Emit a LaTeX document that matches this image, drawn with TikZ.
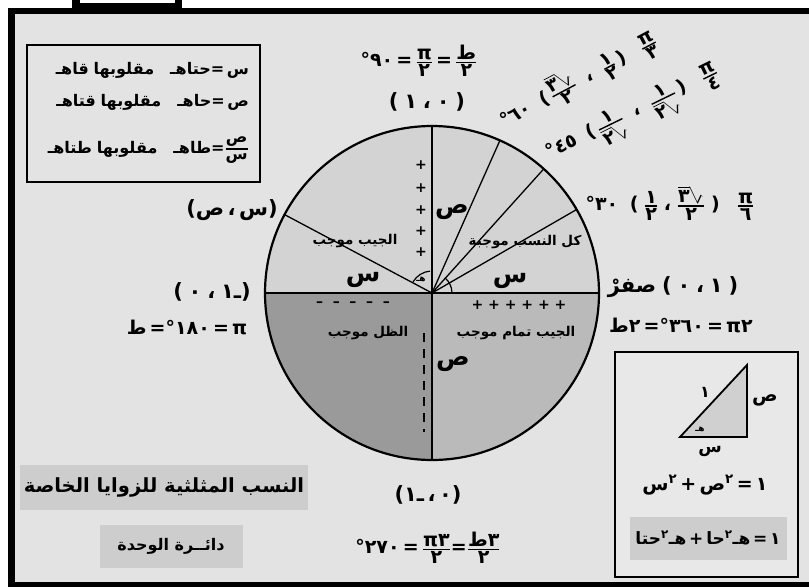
\documentclass[tikz,border=0pt]{standalone}
\usepackage{fontspec}
\usepackage{amsmath}
\usepackage{graphicx}
\usetikzlibrary{calc}
\newfontfamily\arf[Script=Arabic]{DejaVu Sans}
\newfontfamily\laf{DejaVu Sans}
\TeXXeTstate=1
\newcommand{\B}[1]{\hbox{\arf\bfseries #1}}
\newcommand{\PL}[1]{\hbox{\laf\bfseries #1}}
\newcommand{\AR}[1]{\hbox{\arf\bfseries\beginR #1\endR}}
\newcommand{\fr}[2]{$\genfrac{}{}{1.4pt}{}{\B{#1}}{\B{#2}}$}
\newcommand{\rsq}[1]{\reflectbox{$\sqrt{\reflectbox{\B{#1}}}$}}
\definecolor{panel}{HTML}{E3E3E3}
\definecolor{uph}{HTML}{D3D3D3}
\definecolor{llq}{HTML}{9A9A9A}
\definecolor{lrq}{HTML}{BABABA}
\definecolor{gbox}{HTML}{CDCDCD}
\definecolor{tri}{HTML}{D0D0D0}
\definecolor{boxbg}{HTML}{E8E8E8}
\begin{document}
\begin{tikzpicture}[x=1pt,y=-1pt,
  every node/.style={inner sep=0pt,outer sep=0pt},
  lbl/.style={font=\fontsize{19}{22}\selectfont},
  big/.style={font=\fontsize{25}{28}\selectfont},
  quad/.style={font=\fontsize{13.5}{15}\selectfont},
  parl/.style={font=\fontsize{21}{24}\selectfont},
  boxt/.style={font=\fontsize{16}{19}\selectfont,anchor=east}]
\useasboundingbox (0,0) rectangle (809,587);
\fill[white] (0,0) rectangle (809,587);
\fill[panel] (15,14) rectangle (809,582);
% frame
\fill[black] (8,8) rectangle (809,14);
\fill[black] (8,8) rectangle (15,587);
\fill[black] (8,582) rectangle (809,587);
\fill[black] (72,0) rectangle (182,8);
\fill[white] (80,0) rectangle (175,3);
% circle
\coordinate (O) at (432,293);
\fill[uph] (O) -- ++(0:167) arc[start angle=0,end angle=-180,radius=167] -- cycle;
\fill[llq] (O) -- ++(180:167) arc[start angle=180,end angle=90,radius=167] -- cycle;
\fill[lrq] (O) -- ++(90:167) arc[start angle=90,end angle=0,radius=167] -- cycle;
\coordinate (E) at ($(O)+(0:167)$);
\coordinate (W) at ($(O)+(180:167)$);
\coordinate (N) at ($(O)+(-90:167)$);
\coordinate (S) at ($(O)+(90:167)$);
\coordinate (R30) at ($(O)+(-30:167)$);
\coordinate (R45) at ($(O)+(-48:167)$);
\coordinate (R60) at ($(O)+(-66:167)$);
\coordinate (R150) at ($(O)+(-152:167)$);
\draw[line width=1.6] (W) -- (E);
\draw[line width=1.6] (N) -- (S);
\draw[line width=1.3] (O) -- (R30);
\draw[line width=1.3] (O) -- (R45);
\draw[line width=1.3] (O) -- (R60);
\draw[line width=1.3] (O) -- (R150);
\draw[line width=2.2] (O) circle[radius=167];
\draw[line width=1.2] ($(O)+(-95:22)$) arc[start angle=-95,end angle=-150,radius=22];
\draw[line width=1.2] ($(O)+(0:20)$) arc[start angle=0,end angle=-50,radius=20];
\draw[line width=2, dash pattern=on 9pt off 7pt] (424,333) -- (424,432);
% quadrant texts
\node[big] (sUR) at (452,212) {\B{ص}};
\node[big] (xUR) at (510,281) {\B{س}};
\node[big] (xUL) at (363,280) {\B{س}};
\node[big] (sLR) at (453,364) {\B{ص}};
\node[quad] (allpos) at (525,242) {\AR{كل النسب موجبة}};
\node[quad] (sinpos) at (355,241) {\AR{الجيب موجب}};
\node[quad] (tanpos) at (368,333) {\AR{الظل موجب}};
\node[quad] (cospos) at (516,333) {\AR{الجيب تمام موجب}};
\node[font=\fontsize{9}{10}\selectfont] (angh) at (421,279) {\B{هـ}};
\foreach \yy/\nm in {165/p1,188/p2,210/p3,231/p4,252/p5}
  \node[font=\fontsize{14}{16}\selectfont] (\nm) at (421,\yy) {\PL{+}};
\node[font=\fontsize{14}{16}\selectfont] (plusrow) at (519,305) {\PL{+ + + + + +}};
\node[font=\fontsize{14}{16}\selectfont] (minusrow) at (353,304) {\PL{–\ \ –\ \ –\ \ –\ \ –}};
% outside labels
\node[lbl] (a90) at (419,61) {\B{°}\B{٩٠}\,\PL{=}\,\fr{π}{٢}\,\PL{=}\,\fr{ط}{٢}};
\node[parl] (p90) at (427,102) {\PL{(}\;\B{١}\;\B{،}\;\B{٠}\;\PL{)}};
\node[parl] (pxy) at (232,210) {\PL{(}\B{ص}\,\B{،}\,\B{س}\PL{)}};
\node[parl] (p180) at (212,292) {\PL{(}\;\B{٠}\;\B{،}\;\B{١}\B{ـ}\PL{)}};
\node[lbl] (a180) at (187,327) {\B{ط}\,\PL{=}\B{°}\B{١٨٠}\,\PL{=}\,\B{π}};
\node[parl] (p270) at (428,495) {\PL{(}\B{١}\B{ـ}\,\B{،}\,\B{٠}\PL{)}};
\node[lbl] (a270) at (428,548) {\B{°}\B{٢٧٠}\,\PL{=}\,\fr{\B{π}\B{٣}}{٢}\PL{=}\fr{\B{ط}\B{٣}}{٢}};
\node[lbl] (a30) at (670,203) {\B{°}\B{٣٠}\ \ \PL{(}\ \fr{١}{٢}\ \B{،}\ \fr{\rsq{٣}}{٢}\ \PL{)}\ \ \ \fr{π}{٦}};
\node[parl] (p0) at (673,287) {\B{صفرْ}\;\PL{(}\;\B{٠}\;\B{،}\;\B{١}\;\PL{)}};
\node[lbl] (a360) at (681,325) {\B{ط}\B{٢}\,\PL{=}\B{°}\B{٣٦٠}\,\PL{=}\,\B{π}\B{٢}};
\node[lbl,rotate=28] (a60) at (578,80) {\B{°}\B{٦٠}\ \ \PL{(}\,\fr{\rsq{٣}}{٢}\ \ \B{،}\ \ \fr{١}{٢}\,\PL{)}\ \ \ \fr{π}{٣}};
\node[lbl,rotate=26] (a45) at (634,116) {\B{°}\B{٤٥}\ \ \PL{(}\,\fr{١}{\rsq{٢}}\ \ \B{،}\ \ \fr{١}{\rsq{٢}}\,\PL{)}\ \ \ \fr{π}{٤}};
% top-left box
\draw[line width=2.5] (27,45) rectangle (260,182);
\node[boxt] (l1) at (249,70) {\B{قاهـ}\ \B{مقلوبها}\quad\B{حتاهـ}\PL{=}\,\B{س}};
\node[boxt] (l2) at (249,102) {\B{قتاهـ}\ \B{مقلوبها}\quad\B{حاهـ}\PL{=}\,\B{ص}};
\node[boxt] (l3) at (249,150) {\B{طتاهـ}\ \B{مقلوبها}\quad\B{طاهـ}\PL{=}\fr{ص}{س}};
% titles
\fill[gbox] (20,465) rectangle (308,510);
\fill[gbox] (100,525) rectangle (243,568);
\node[font=\fontsize{19.5}{22}\selectfont] (title) at (164,487) {\AR{النسب المثلثية للزوايا الخاصة}};
\node[font=\fontsize{16}{18}\selectfont] (sub) at (171,546) {\AR{دائــرة الوحدة}};
% bottom-right box
\draw[line width=2.5, fill=boxbg] (615,352) rectangle (798,577);
\fill[gbox] (630,517) rectangle (787,560);
\coordinate (T1) at (680,437);
\coordinate (T2) at (747,437);
\coordinate (T3) at (747,365);
\filldraw[fill=tri, line width=1.8] (T1) -- (T2) -- (T3) -- cycle;
\node[font=\fontsize{16}{18}\selectfont] (one) at (705,392) {\B{١}};
\node[font=\fontsize{19}{20}\selectfont] (tys) at (765,400) {\B{ص}};
\node[font=\fontsize{17}{18}\selectfont] (txs) at (710,451) {\B{س}};
\node[font=\fontsize{9}{10}\selectfont] (th) at (700,429) {\B{هـ}};
\node[lbl] (e1) at (705,485) {\B{س}\textsuperscript{\B{٢}}\,\PL{+}\,\B{ص}\textsuperscript{\B{٢}}\,\PL{=}\,\B{١}};
\node[font=\fontsize{17}{20}\selectfont] (e2) at (708,538) {\B{حتا}\textsuperscript{\B{٢}}\B{هـ}\,\PL{+}\,\B{حا}\textsuperscript{\B{٢}}\B{هـ}\,\PL{=}\,\B{١}};
\end{tikzpicture}
\end{document}
